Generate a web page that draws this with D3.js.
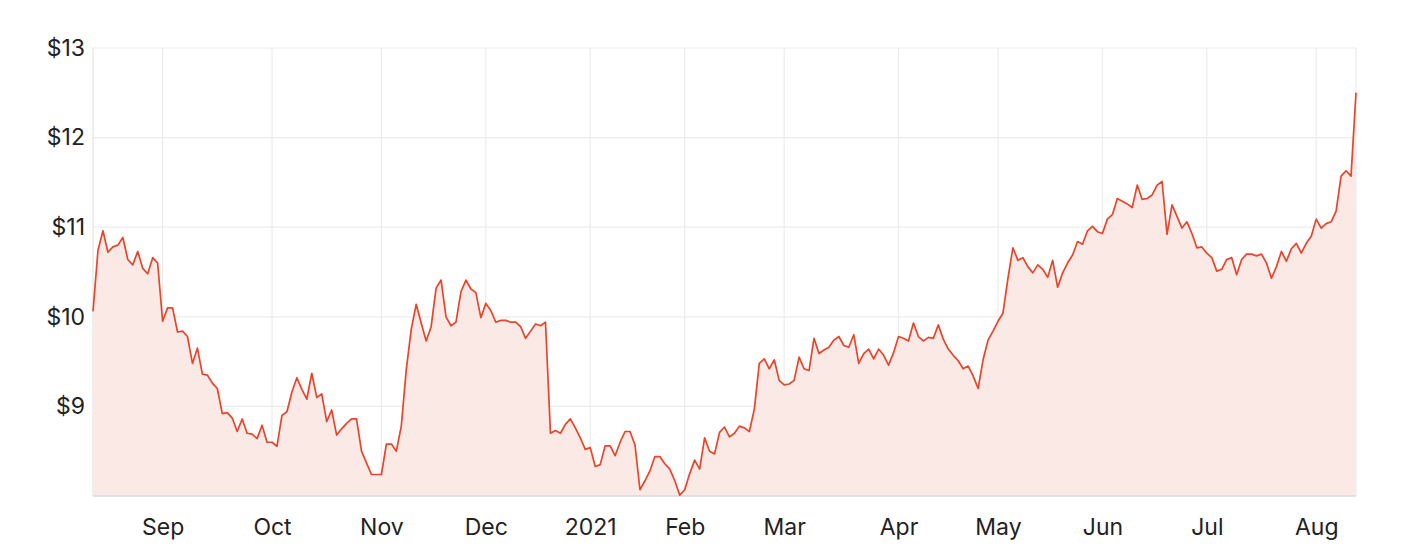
<!DOCTYPE html>
<html>
<head>
<meta charset="utf-8">
<script src="https://cdn.jsdelivr.net/npm/d3@7"></script>
<style>
  html, body { margin: 0; padding: 0; background: #fff; }
  svg { display: block; }
  text { font-family: "Inter", "Open Sans", sans-serif; }
</style>
</head>
<body>
<svg id="chart" width="1404" height="556"></svg>
<script>
// ---- Data ----
const startDate = "2020-08-12";
const endDate = "2021-08-12";
const holidays = ["2020-12-25", "2020-12-28", "2021-01-01", "2021-01-26", "2021-04-02", "2021-04-05", "2021-06-14"];
const prices = [
  10.06, 10.74, 10.96, 10.72, 10.78, 10.80, 10.885, 10.64, 10.58, 10.73,
  10.54, 10.48, 10.66, 10.60, 9.95, 10.10, 10.10, 9.83, 9.84, 9.78,
  9.48, 9.65, 9.36, 9.35, 9.26, 9.20, 8.92, 8.93, 8.87, 8.72,
  8.86, 8.70, 8.69, 8.64, 8.79, 8.60, 8.60, 8.555, 8.90, 8.94,
  9.16, 9.32, 9.19, 9.08, 9.37, 9.10, 9.14, 8.83, 8.96, 8.68,
  8.75, 8.81, 8.86, 8.86, 8.50, 8.37, 8.24, 8.24, 8.24, 8.58,
  8.58, 8.50, 8.78, 9.41, 9.86, 10.14, 9.93, 9.73, 9.89, 10.32,
  10.41, 10.00, 9.90, 9.94, 10.28, 10.41, 10.31, 10.27, 9.99, 10.15,
  10.07, 9.94, 9.96, 9.96, 9.94, 9.94, 9.89, 9.76, 9.84, 9.92,
  9.90, 9.94, 8.70, 8.73, 8.70, 8.80, 8.86, 8.76, 8.65, 8.52,
  8.54, 8.33, 8.35, 8.56, 8.56, 8.45, 8.60, 8.72, 8.72, 8.57,
  8.07, 8.17, 8.28, 8.44, 8.44, 8.36, 8.30, 8.17, 8.01, 8.07,
  8.25, 8.40, 8.30, 8.65, 8.50, 8.47, 8.71, 8.77, 8.66, 8.70,
  8.78, 8.76, 8.72, 8.97, 9.48, 9.53, 9.42, 9.52, 9.29, 9.24,
  9.25, 9.29, 9.55, 9.42, 9.40, 9.76, 9.59, 9.63, 9.66, 9.74,
  9.78, 9.68, 9.66, 9.80, 9.48, 9.59, 9.64, 9.53, 9.64, 9.57,
  9.46, 9.60, 9.78, 9.76, 9.73, 9.93, 9.78, 9.73, 9.77, 9.76,
  9.91, 9.75, 9.64, 9.57, 9.51, 9.42, 9.45, 9.34, 9.20, 9.52,
  9.74, 9.84, 9.95, 10.04, 10.43, 10.77, 10.63, 10.66, 10.56, 10.49,
  10.58, 10.53, 10.44, 10.63, 10.33, 10.49, 10.60, 10.69, 10.84, 10.81,
  10.96, 11.01, 10.95, 10.93, 11.09, 11.14, 11.32, 11.29, 11.26, 11.22,
  11.47, 11.31, 11.32, 11.36, 11.47, 11.51, 10.92, 11.25, 11.12, 10.99,
  11.06, 10.93, 10.77, 10.78, 10.71, 10.66, 10.51, 10.53, 10.64, 10.66,
  10.47, 10.64, 10.70, 10.70, 10.68, 10.70, 10.60, 10.43, 10.56, 10.73,
  10.62, 10.76, 10.82, 10.71, 10.82, 10.90, 11.09, 10.99, 11.04, 11.06,
  11.18, 11.57, 11.63, 11.57, 12.50
];
const yTicks = [9, 10, 11, 12, 13];
const monthLabels = ["Sep", "Oct", "Nov", "Dec", "2021", "Feb", "Mar", "Apr", "May", "Jun", "Jul", "Aug"];

// ---- Trading days ----
const fmt = d3.utcFormat("%Y-%m-%d");
const hol = new Set(holidays);
const days = d3.utcDay.range(new Date(startDate + "T00:00:00Z"), d3.utcDay.offset(new Date(endDate + "T00:00:00Z"), 1))
  .filter(d => d.getUTCDay() !== 0 && d.getUTCDay() !== 6 && !hol.has(fmt(d)));
const data = prices.map((v, i) => ({ i, date: days[i], v }));

// first trading day of each month (from September on)
const monthStarts = [];
for (let i = 1; i < days.length && i < prices.length; i++) {
  if (days[i].getUTCMonth() !== days[i - 1].getUTCMonth()) monthStarts.push(i);
}

// ---- Layout ----
const mL = 93, mR = 1356, mT = 48, mB = 496;
const svg = d3.select("#chart");
const x = d3.scaleLinear().domain([0, prices.length - 1]).range([mL, mR]);
const y = d3.scaleLinear().domain([8, 13]).range([mB, mT]);

const grid = svg.append("g");
grid.selectAll("line.h").data(yTicks).join("line")
  .attr("x1", mL).attr("x2", mR)
  .attr("y1", d => y(d)).attr("y2", d => y(d))
  .attr("stroke", "#ececec").attr("stroke-width", 1.2);
grid.selectAll("line.v").data(monthStarts).join("line")
  .attr("x1", d => x(d)).attr("x2", d => x(d))
  .attr("y1", mT).attr("y2", mB)
  .attr("stroke", "#ececec").attr("stroke-width", 1.2);
grid.append("line").attr("x1", mL).attr("x2", mL).attr("y1", mT).attr("y2", mB)
  .attr("stroke", "#e3e3e3").attr("stroke-width", 1.2);
grid.append("line").attr("x1", mR).attr("x2", mR).attr("y1", mT).attr("y2", mB)
  .attr("stroke", "#ececec").attr("stroke-width", 1.2);

svg.append("path").datum(data)
  .attr("fill", "#fbe9e6")
  .attr("d", d3.area().x(d => x(d.i)).y0(mB).y1(d => y(d.v)));

svg.append("line").attr("x1", mL).attr("x2", mR).attr("y1", mB).attr("y2", mB)
  .attr("stroke", "#d9d9d9").attr("stroke-width", 1.5);

svg.append("path").datum(data)
  .attr("fill", "none")
  .attr("stroke", "#e8452c")
  .attr("stroke-width", 1.7)
  .attr("stroke-linejoin", "round")
  .attr("d", d3.line().x(d => x(d.i)).y(d => y(d.v)));

const yAxis = d3.axisLeft(y).tickValues(yTicks).tickFormat(d => "$" + d).tickSize(0).tickPadding(8);
const ya = svg.append("g").attr("transform", `translate(${mL},0)`).call(yAxis);
ya.select(".domain").remove();
ya.selectAll("text").attr("font-size", 23).attr("fill", "#222").style("font-family", "Inter, 'Open Sans', sans-serif");

const xAxis = d3.axisBottom(x).tickValues(monthStarts).tickFormat((d, k) => monthLabels[k]).tickSize(0).tickPadding(23);
const xa = svg.append("g").attr("transform", `translate(0,${mB})`).call(xAxis);
xa.select(".domain").remove();
xa.selectAll("text").attr("font-size", 23).attr("fill", "#222").style("font-family", "Inter, 'Open Sans', sans-serif");
</script>
</body>
</html>
